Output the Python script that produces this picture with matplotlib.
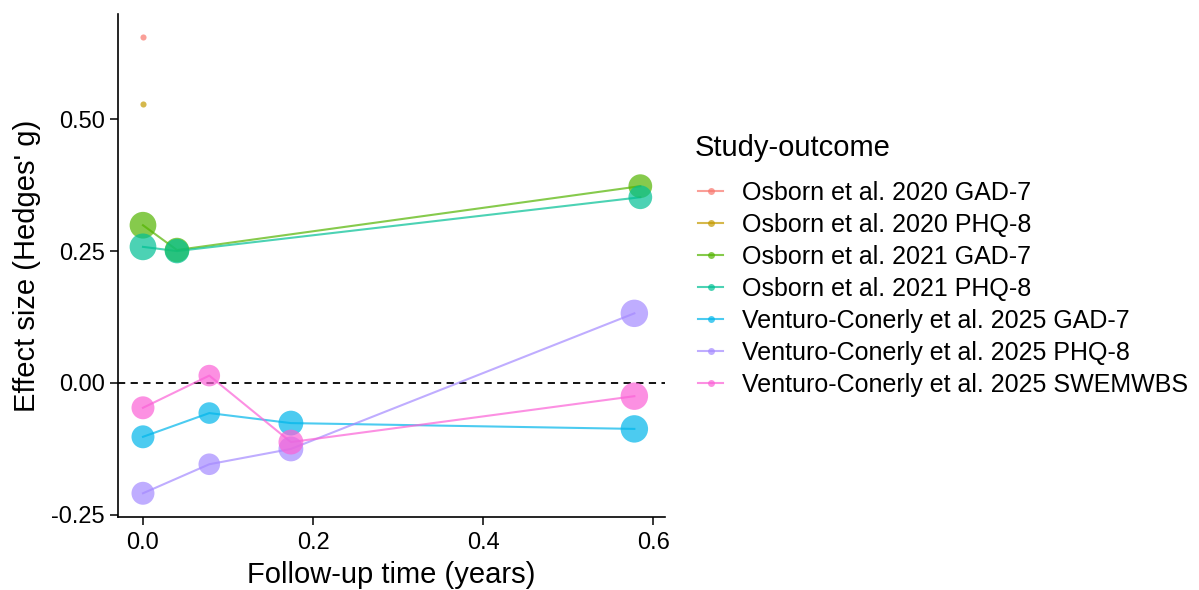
import matplotlib
matplotlib.use("Agg")
import matplotlib.pyplot as plt
from matplotlib.lines import Line2D

plt.rcParams['font.family'] = ['Liberation Sans', 'DejaVu Sans']

# Study-outcome series: follow-up time (years), effect size (Hedges' g), weight
labels = [
    "Osborn et al. 2020 GAD-7",
    "Osborn et al. 2020 PHQ-8",
    "Osborn et al. 2021 GAD-7",
    "Osborn et al. 2021 PHQ-8",
    "Venturo-Conerly et al. 2025 GAD-7",
    "Venturo-Conerly et al. 2025 PHQ-8",
    "Venturo-Conerly et al. 2025 SWEMWBS",
]
osb2020_gad_t = [0.0]
osb2020_gad_g = [0.655]
osb2020_phq_t = [0.0]
osb2020_phq_g = [0.528]
osb2021_gad_t = [0.0, 0.04, 0.585]
osb2021_gad_g = [0.299, 0.252, 0.373]
osb2021_phq_t = [0.0, 0.04, 0.585]
osb2021_phq_g = [0.258, 0.250, 0.352]
vc_gad_t = [0.0, 0.078, 0.174, 0.578]
vc_gad_g = [-0.102, -0.057, -0.076, -0.087]
vc_phq_t = [0.0, 0.078, 0.174, 0.578]
vc_phq_g = [-0.209, -0.154, -0.125, 0.132]
vc_swe_t = [0.0, 0.078, 0.174, 0.578]
vc_swe_g = [-0.047, 0.014, -0.112, -0.025]

# relative weights mapped to point area
osb2020_w = [0.05]
osb2021_w = [0.95, 0.8, 0.75]
vc_w = [0.7, 0.62, 0.82, 1.0]

series = [
    (osb2020_gad_t, osb2020_gad_g, osb2020_w),
    (osb2020_phq_t, osb2020_phq_g, osb2020_w),
    (osb2021_gad_t, osb2021_gad_g, osb2021_w),
    (osb2021_phq_t, osb2021_phq_g, osb2021_w),
    (vc_gad_t, vc_gad_g, vc_w),
    (vc_phq_t, vc_phq_g, vc_w),
    (vc_swe_t, vc_swe_g, vc_w),
]
colors = ["#F8766D", "#C49A00", "#53B400", "#00C094", "#00B6EB", "#A58AFF", "#FB61D7"]

fig = plt.figure(figsize=(11.99, 5.90), dpi=100)
ax = fig.add_axes([0.0984, 0.1237, 0.4562, 0.8523])

ax.axhline(0, color="black", linestyle=(0, (4, 3)), linewidth=1.3, zorder=1)

for (t, g, w), c in zip(series, colors):
    ax.plot(t, g, color=c, alpha=0.7, linewidth=1.5, zorder=2)
    ax.scatter(t, g, s=[390 * v for v in w], color=c, alpha=0.7,
               linewidths=0, zorder=3)

ax.set_xlim(-0.0294, 0.614)
ax.set_ylim(-0.254, 0.699)
ax.set_xticks([0.0, 0.2, 0.4, 0.6])
ax.set_xticklabels(["0.0", "0.2", "0.4", "0.6"])
ax.set_yticks([0.5, 0.25, 0.0, -0.25])
ax.set_yticklabels(["0.50", "0.25", "0.00", "-0.25"])
ax.tick_params(labelsize=17, length=5.5, width=1.1, colors="black")
ax.tick_params(axis="x", pad=5)
ax.tick_params(axis="y", pad=4)
for side in ("top", "right"):
    ax.spines[side].set_visible(False)
for side in ("left", "bottom"):
    ax.spines[side].set_linewidth(1.2)

ax.set_xlabel("Follow-up time (years)", fontsize=21, labelpad=5)
ax.set_ylabel("Effect size (Hedges' g)", fontsize=21, labelpad=7)

# legend: title placed separately, entries below it
fig.text(695 / 1199, 1 - 148 / 590, "Study-outcome", fontsize=21,
         ha="left", va="center")
handles = [Line2D([0], [0], color=c, alpha=0.7, linewidth=1.5, marker="o",
                  markersize=5, markeredgewidth=0) for c in colors]
fig.legend(handles, labels, loc="upper left",
           bbox_to_anchor=(698 / 1199, 1 - 181 / 590), frameon=False,
           fontsize=18, handlelength=1.0, handletextpad=0.76,
           labelspacing=0.32, borderpad=0, borderaxespad=0)

fig.savefig("out.png", dpi=100)
